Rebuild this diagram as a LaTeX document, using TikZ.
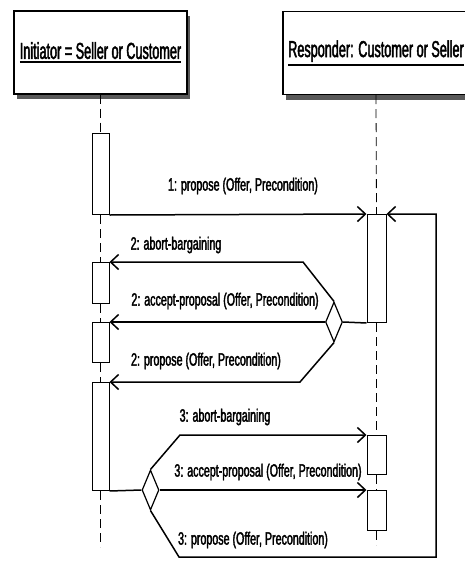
\documentclass[tikz,border=0pt]{standalone}
\usepackage{fontspec}
\newfontfamily\headfont{Liberation Sans}[FakeStretch=0.55,FakeBold=2]
\newfontfamily\msgfont{Liberation Sans}[FakeStretch=0.6,FakeBold=2]
\usetikzlibrary{arrows.meta,shapes.geometric,shadows}
\newcommand\ulhead[1]{\setbox0\hbox{#1}\vtop{\copy0\kern2pt\hrule height 1.8pt width \wd0}}

\begin{document}
\begin{tikzpicture}[x=1pt,y=-1pt,
	head/.style={draw,line width=1.4pt,fill=white,minimum height=83pt,inner sep=0pt,
		drop shadow={shadow xshift=3pt,shadow yshift=-5pt,fill=black!65,opacity=1},
		font=\headfont\fontsize{23}{25}\selectfont},
	act/.style={draw,line width=1pt,fill=white,minimum width=17pt,inner sep=0pt,anchor=north},
	dec/.style={diamond,draw,line width=1.2pt,fill=white,minimum width=17pt,minimum height=40pt,inner sep=0pt},
	life/.style={line width=0.8pt,dash pattern=on 9pt off 5pt},
	msg/.style={line width=1.5pt,-{Straight Barb[length=8pt,width=15pt]}},
	lbl/.style={font=\msgfont\fontsize{17.8}{19}\selectfont,inner sep=0pt}]
%
	\useasboundingbox (0,0) rectangle (465,563);
	\clip (0,0) rectangle (465,563);
%
	\node[head,minimum width=173pt] (init) at (100.5,52.5) {\ulhead{Initiator = Seller or Customer}};
	\node[head,minimum width=186pt] (resp) at (376,53) {\ulhead{Responder: Customer or Seller}};
%
	\node[act,minimum height=81pt] (ia) at (100.5,133) {};
	\node[act,minimum height=41pt] (ib) at (100.5,262) {};
	\node[act,minimum height=40pt] (ic) at (100.5,322) {};
	\node[act,minimum height=108pt] (id) at (100.5,382) {};
	\node[act,minimum width=19pt,minimum height=108pt] (ra) at (376.5,214) {};
	\node[act,minimum width=19pt,minimum height=39pt] (rb) at (376.5,435) {};
	\node[act,minimum width=19pt,minimum height=40pt] (rc) at (376.5,490) {};
	\coordinate (iend) at (100.5,547);
	\coordinate (rend) at (376.5,545);
%
	\draw[life] (init.south) -- (ia.north);
	\draw[life] (ia.south) -- (ib.north);
	\draw[life] (ib.south) -- (ic.north);
	\draw[life] (ic.south) -- (id.north);
	\draw[life] (id.south) -- (iend);
	\draw[life] (resp.south) -- (ra.north);
	\draw[life] (ra.south) -- (rb.north);
	\draw[life] (rb.south) -- (rc.north);
	\draw[life] (rc.south) -- (rend);
%
	\node[dec] (d1) at (334,322) {};
	\node[dec] (d2) at (150.5,490) {};
%
	\draw[msg] (ia.south east) -- (ra.north west);
	\draw[line width=1.5pt] (ra.south west) -- (d1.east);
	\draw[msg] (d1.north) -- (303,262) -- (ib.north east);
	\draw[msg] (d1.west) -- (ic.north east);
	\draw[msg] (d1.south) -- (300,382) -- (id.north east);
	\draw[line width=1.5pt] (id.south east) -- (d2.west);
	\draw[msg] (d2.north) -- (180,435) -- (rb.north west);
	\draw[msg] (d2.east) -- (rc.north west);
	\draw[msg] (d2.south) -- (179,557) -- (436,557) |- (ra.north east);
%
	\node[lbl] (l1) at (243,186) {1: propose (Offer, Precondition)};
	\node[lbl] (l2) at (176,245) {2: abort-bargaining};
	\node[lbl] (l3) at (225,301) {2: accept-proposal (Offer, Precondition)};
	\node[lbl] (l4) at (206,361) {2: propose (Offer, Precondition)};
	\node[lbl] (l5) at (225,417) {3: abort-bargaining};
	\node[lbl] (l6) at (268,472) {3: accept-proposal (Offer, Precondition)};
	\node[lbl] (l7) at (253,540) {3: propose (Offer, Precondition)};
%
\end{tikzpicture}
\end{document}
